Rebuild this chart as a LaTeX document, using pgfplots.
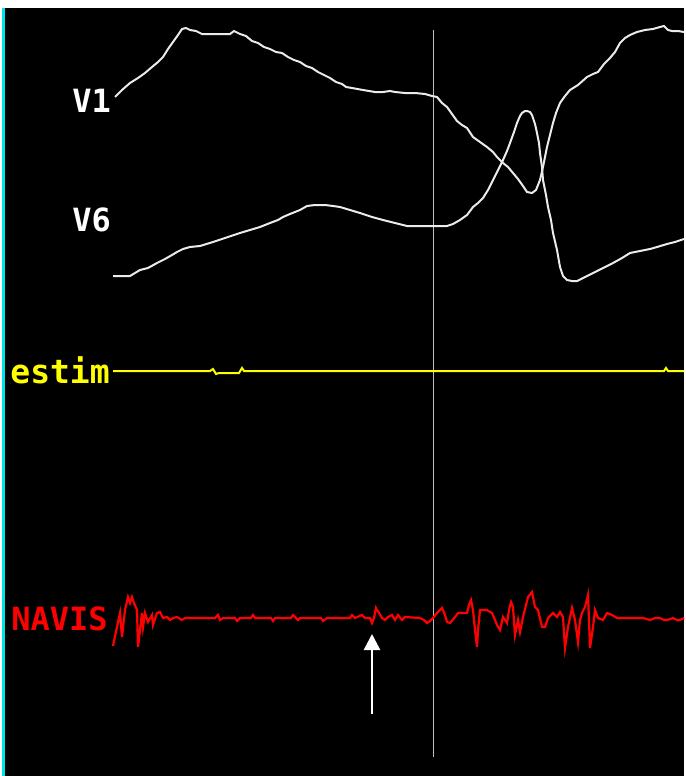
\documentclass[border=0pt]{standalone}
\usepackage{fontspec}
\usepackage{pgfplots}
\pgfplotsset{compat=1.18}
\usetikzlibrary{arrows.meta}
\newfontfamily\pix{DejaVu Sans Mono}
\definecolor{tracewhite}{RGB}{235,235,235}
\definecolor{vline}{RGB}{190,190,190}
\definecolor{ecgyellow}{RGB}{255,255,0}
\definecolor{ecgred}{RGB}{255,0,0}
\definecolor{ecgcyan}{RGB}{0,230,230}
\begin{document}
\begin{tikzpicture}
\begin{axis}[width=342pt,height=388pt,scale only axis,
  xmin=0,xmax=684,ymin=0,ymax=776,y dir=reverse,
  axis lines=none,clip=false]
% background
\fill[white] (axis cs:0,0) rectangle (axis cs:684,776);
\fill[black] (axis cs:2,8) rectangle (axis cs:684,776);
\fill[ecgcyan] (axis cs:2,8) rectangle (axis cs:5,776);
% cursor line
\addplot[vline,line width=0.7pt] coordinates {(433.5,30) (433.5,757)};
% V1
\addplot[tracewhite,line width=1pt] coordinates {
(115,97) (122,90) (130,83) (138,78) (145,73) (152,67) (158,62) (163,57) (168,49) (173,42) (178,35) (182,29) (186,28) (190,30) (196,31) (202,34) (215,34) (230,34) (234,31) (240,34) (246,36) (252,41) (258,43) (264,47) (270,49) (276,52) (282,53) (288,57) (294,60) (300,62) (306,66) (312,68) (318,72) (324,75) (330,78) (336,82) (342,84) (346,87) (352,88) (363,90) (375,92) (383,92) (390,91) (395,92) (405,93) (415,93) (425,94) (432,96) (437,97) (442,103) (447,107) (452,114) (457,121) (462,125) (467,128) (473,137) (480,142) (487,147) (493,152) (497,157) (503,163) (508,167) (513,173) (518,179) (523,186) (527,192) (532,193) (536,190) (540,180) (543,167) (545,157) (547,147) (550,135) (553,123) (556,113) (560,103) (565,96) (570,90) (578,85) (587,77) (593,74) (598,72) (604,64) (610,58) (615,52) (620,43) (625,38) (630,35) (637,32) (645,30) (653,29) (660,27) (664,26) (668,30) (672,31) (678,31) (684,32)};
% V6
\addplot[tracewhite,line width=1pt] coordinates {
(113,276) (130,276) (135,273) (140,270) (148,268) (157,263) (165,259) (172,255) (177,252) (183,249) (190,247) (200,246) (213,242) (225,238) (240,233) (250,230) (260,227) (270,223) (278,220) (283,217) (290,214) (300,210) (307,206) (315,205) (325,205) (333,206) (340,207) (350,210) (360,213) (372,217) (383,220) (395,223) (407,226) (420,226) (435,226) (447,226) (453,224) (460,220) (467,215) (473,207) (478,203) (483,198) (488,190) (493,180) (498,170) (503,160) (507,151) (510,143) (514,132) (517,123) (520,116) (522,113) (525,111) (527,111) (530,112) (532,115) (535,124) (537,133) (539,143) (540,153) (542,167) (543,180) (546,195) (548,207) (551,220) (553,233) (557,250) (560,267) (563,276) (567,280) (572,281) (577,281) (585,277) (593,273) (603,268) (613,263) (622,258) (630,253) (640,251) (650,249) (657,247) (667,244) (675,242) (684,239)};
% estim
\addplot[ecgyellow,line width=1pt] coordinates {
(113,371) (210,371) (213,369) (216,374) (219,373) (236,373) (239,373) (242,368) (244,371) (664,371) (666,368) (668,371) (684,371)};
% NAVIS
\addplot[ecgred,line width=1.1pt] coordinates {
(113,646) (117,627) (120,613) (122,637) (125,610) (128,597) (130,603) (132,597) (134,603) (137,610) (138,647) (142,613) (143,627) (145,613) (148,622) (152,615) (153,625) (157,613) (160,612) (163,618) (167,617) (170,620) (173,618) (177,617) (182,620) (185,618) (215,618) (218,615) (220,620) (223,618) (235,618) (237,621) (240,618) (251,618) (253,615) (255,618) (271,618) (273,621) (275,618) (291,618) (293,615) (296,618) (298,620) (300,618) (321,618) (323,621) (327,618) (340,618) (350,618) (352,615) (355,618) (362,615) (365,618) (370,618) (372,623) (374,618) (376,608) (377,610) (379,613) (382,618) (385,620) (388,617) (392,615) (395,620) (398,615) (402,620) (405,617) (420,618) (424,620) (427,623) (430,621) (433,618) (437,613) (442,608) (445,615) (447,622) (450,623) (455,617) (458,613) (463,613) (467,613) (469,605) (471,600) (473,610) (475,630) (477,647) (478,630) (480,610) (487,610) (490,612) (492,613) (495,620) (497,625) (500,630) (503,617) (507,623) (509,610) (511,602) (513,607) (515,635) (518,620) (520,632) (523,617) (526,605) (528,597) (532,592) (535,607) (538,610) (542,627) (545,627) (548,618) (553,613) (557,617) (560,612) (563,617) (565,648) (568,627) (572,608) (575,620) (578,642) (580,620) (582,613) (585,607) (588,595) (589,620) (590,648) (593,627) (595,610) (598,618) (603,620) (607,613) (612,615) (617,618) (643,618) (650,620) (655,618) (660,618) (664,620) (667,620) (673,618) (677,620) (680,620) (684,618)};
% arrow
\addplot[white,line width=1.3pt,-{Triangle[width=8pt,length=8pt]}] coordinates {(372,714) (372,634)};
% labels
\node[anchor=base west,inner sep=0pt,text=white] at (axis cs:72,112) {\pix\bfseries\fontsize{16}{16}\selectfont V1};
\node[anchor=base west,inner sep=0pt,text=white] at (axis cs:72,231) {\pix\bfseries\fontsize{16}{16}\selectfont V6};
\node[anchor=base west,inner sep=0pt,text=ecgyellow] at (axis cs:10,383) {\pix\bfseries\fontsize{16.5}{16.5}\selectfont estim};
\node[anchor=base west,inner sep=0pt,text=ecgred] at (axis cs:11,630) {\pix\bfseries\fontsize{16}{16}\selectfont NAVIS};
\end{axis}
\end{tikzpicture}
\end{document}
